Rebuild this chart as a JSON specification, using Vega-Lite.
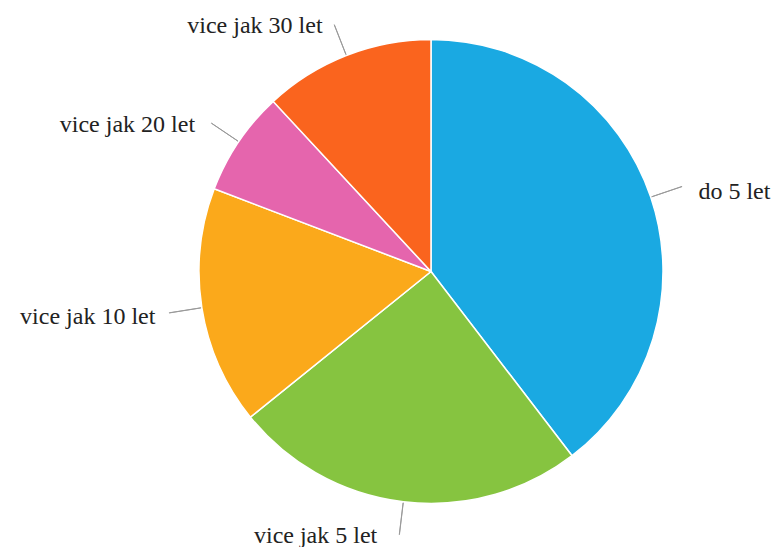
{
  "$schema": "https://vega.github.io/schema/vega-lite/v6.json",
  "width": 690,
  "height": 543,
  "autosize": "none",
  "padding": {"left": 86, "right": 0, "top": 0, "bottom": 4},
  "background": "white",
  "view": {"stroke": null},
  "data": {
    "values": [
      {"category": "do 5 let", "value": 39.6},
      {"category": "vice jak 5 let", "value": 24.6},
      {"category": "vice jak 10 let", "value": 16.6},
      {"category": "vice jak 20 let", "value": 7.3},
      {"category": "vice jak 30 let", "value": 11.9}
    ]
  },
  "transform": [
    {"window": [{"op": "row_number", "as": "rank"}]},
    {"window": [{"op": "sum", "field": "value", "as": "cum"}], "frame": [null, 0]},
    {"calculate": "datum.cum - datum.value / 2", "as": "mid"},
    {"calculate": "datum.cum - datum.value / 2 + 0.01", "as": "mid2"}
  ],
  "layer": [
    {
      "mark": {"type": "arc", "outerRadius": 232, "stroke": "white", "strokeWidth": 1.5},
      "encoding": {
        "theta": {"field": "value", "type": "quantitative", "stack": true, "scale": {"domain": [0, 100]}},
        "order": {"field": "rank", "type": "quantitative"},
        "color": {
          "field": "category",
          "type": "nominal",
          "legend": null,
          "scale": {
            "domain": ["do 5 let", "vice jak 5 let", "vice jak 10 let", "vice jak 20 let", "vice jak 30 let"],
            "range": ["#1AA9E2", "#86C440", "#FBA91B", "#E565AD", "#FA641E"]
          }
        }
      }
    },
    {
      "mark": {"type": "arc", "fill": null, "fillOpacity": 0, "stroke": "#9a9a9a", "strokeWidth": 1},
      "encoding": {
        "theta": {"field": "mid", "type": "quantitative", "scale": {"domain": [0, 100]}},
        "theta2": {"field": "mid2"},
        "radius": {"value": 265},
        "radius2": {"value": 233}
      }
    },
    {
      "mark": {"type": "text", "radius": 275, "align": "left", "baseline": "middle", "font": "Liberation Serif", "fontSize": 24, "fill": "#222222", "dx": 7, "dy": 9},
      "encoding": {
        "theta": {"field": "value", "type": "quantitative", "stack": true, "scale": {"domain": [0, 100]}},
        "order": {"field": "rank", "type": "quantitative"},
        "text": {"condition": {"test": "datum.category === 'do 5 let'", "field": "category"}, "value": ""}
      }
    },
    {
      "mark": {"type": "text", "radius": 275, "align": "right", "baseline": "middle", "font": "Liberation Serif", "fontSize": 24, "fill": "#222222", "dx": -21, "dy": -9},
      "encoding": {
        "theta": {"field": "value", "type": "quantitative", "stack": true, "scale": {"domain": [0, 100]}},
        "order": {"field": "rank", "type": "quantitative"},
        "text": {"condition": {"test": "datum.category === 'vice jak 5 let'", "field": "category"}, "value": ""}
      }
    },
    {
      "mark": {"type": "text", "radius": 275, "align": "right", "baseline": "middle", "font": "Liberation Serif", "fontSize": 24, "fill": "#222222", "dx": -4, "dy": 2},
      "encoding": {
        "theta": {"field": "value", "type": "quantitative", "stack": true, "scale": {"domain": [0, 100]}},
        "order": {"field": "rank", "type": "quantitative"},
        "text": {"condition": {"test": "datum.category === 'vice jak 10 let'", "field": "category"}, "value": ""}
      }
    },
    {
      "mark": {"type": "text", "radius": 275, "align": "right", "baseline": "middle", "font": "Liberation Serif", "fontSize": 24, "fill": "#222222", "dx": -8, "dy": 7},
      "encoding": {
        "theta": {"field": "value", "type": "quantitative", "stack": true, "scale": {"domain": [0, 100]}},
        "order": {"field": "rank", "type": "quantitative"},
        "text": {"condition": {"test": "datum.category === 'vice jak 20 let'", "field": "category"}, "value": ""}
      }
    },
    {
      "mark": {"type": "text", "radius": 275, "align": "right", "baseline": "middle", "font": "Liberation Serif", "fontSize": 24, "fill": "#222222", "dx": -8, "dy": 11},
      "encoding": {
        "theta": {"field": "value", "type": "quantitative", "stack": true, "scale": {"domain": [0, 100]}},
        "order": {"field": "rank", "type": "quantitative"},
        "text": {"condition": {"test": "datum.category === 'vice jak 30 let'", "field": "category"}, "value": ""}
      }
    }
  ]
}
